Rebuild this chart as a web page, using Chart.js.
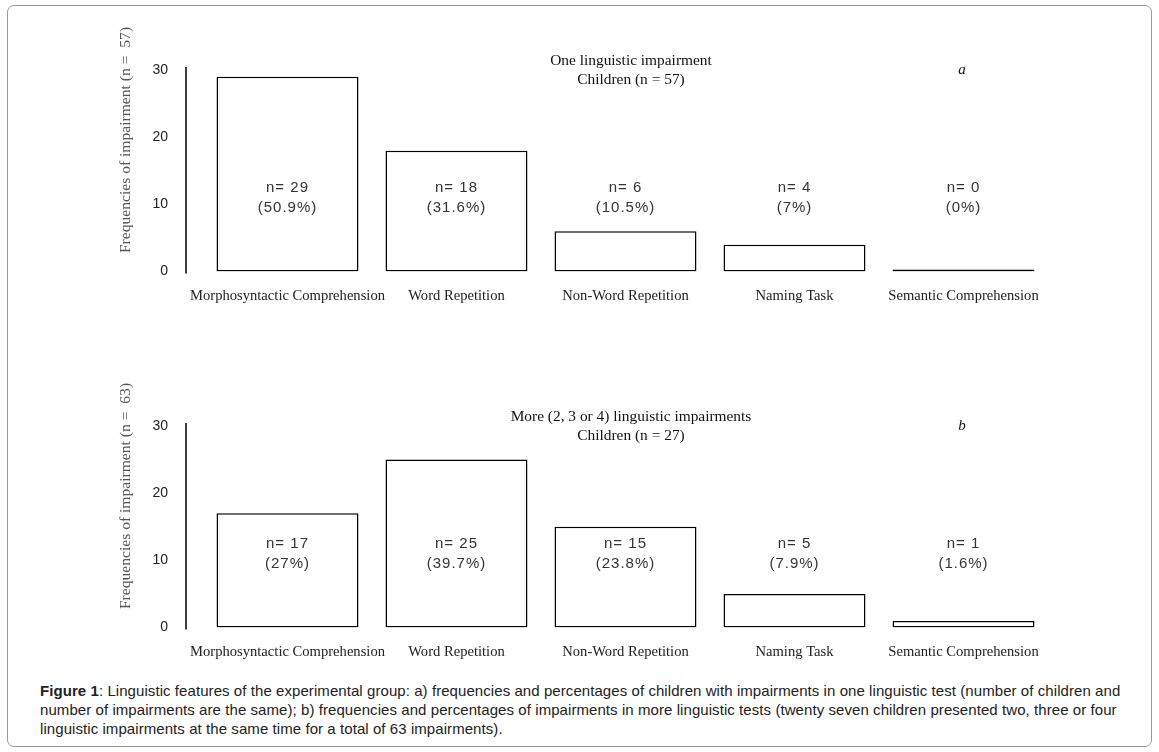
<!DOCTYPE html>
<html>
<head>
<meta charset="utf-8">
<script src="https://cdn.jsdelivr.net/npm/chart.js@4/dist/chart.umd.min.js"></script>
<style>
  body { margin: 0; background: #fff; }
  #frame {
    position: absolute; left: 7px; top: 5px; width: 1143px; height: 740px;
    border: 1px solid #999; border-radius: 7px;
  }
  canvas { position: absolute; left: 0; }
  #chartA { top: 0; }
  #chartB { top: 356px; }
  #caption {
    position: absolute; left: 40px; top: 681px;
    font: 15px "Liberation Sans", Arial, sans-serif; line-height: 19px; color: #222;
    letter-spacing: 0.07px;
  }
</style>
</head>
<body>
<div id="frame"></div>
<canvas id="chartA" width="1100" height="315"></canvas>
<canvas id="chartB" width="1100" height="315"></canvas>
<div id="caption"><b>Figure 1</b>: Linguistic features of the experimental group: a) frequencies and percentages of children with impairments in one linguistic test (number of children and<br>number of impairments are the same); b) frequencies and percentages of impairments in more linguistic tests (twenty seven children presented two, three or four<br>linguistic impairments at the same time for a total of 63 impairments).</div>

<script>
// --- dados ---
const categorias = ['Morphosyntactic Comprehension', 'Word Repetition', 'Non-Word Repetition', 'Naming Task', 'Semantic Comprehension'];
const contagemUma = [29, 18, 6, 4, 0];
const percentUma = ['50.9%', '31.6%', '10.5%', '7%', '0%'];
const contagemMais = [17, 25, 15, 5, 1];
const percentMais = ['27%', '39.7%', '23.8%', '7.9%', '1.6%'];
const ticksY = [0, 10, 20, 30];

const serif = '"Liberation Serif", "Times New Roman", serif';
const sans = '"Liberation Sans", Arial, sans-serif';

// plugin que desenha eixo, títulos e rótulos das barras
const decoracao = {
    id: 'deco',
    afterDraw(chart, args, opts) {
        const ctx = chart.ctx;
        const area = chart.chartArea;
        const y = chart.scales.y;
        ctx.save();

        // linha do eixo y
        ctx.strokeStyle = '#000';
        ctx.lineWidth = 1.5;
        ctx.beginPath();
        ctx.moveTo(area.left - 17, area.top - 3);
        ctx.lineTo(area.left - 17, area.bottom + 2);
        ctx.stroke();

        // título do eixo y
        ctx.fillStyle = '#555';
        ctx.font = '15.6px ' + serif;
        ctx.textAlign = 'center';
        ctx.textBaseline = 'middle';
        ctx.translate(area.left - 77, area.top + 70);
        ctx.rotate(-Math.PI / 2);
        ctx.fillText(opts.tituloY, 0, 0);
        ctx.setTransform(chart.currentDevicePixelRatio, 0, 0, chart.currentDevicePixelRatio, 0, 0);

        // título
        ctx.fillStyle = '#111';
        ctx.font = '15.4px ' + serif;
        ctx.fillText(opts.titulo1, 631, area.top - 9);
        ctx.fillText(opts.titulo2, 631, area.top + 10);
        ctx.font = 'italic 15px ' + serif;
        ctx.fillText(opts.letra, 962, area.top);

        // rótulos n= / %
        const meta = chart.getDatasetMeta(0);
        const centro = y.getPixelForValue(11);
        ctx.font = '15px ' + sans;
        ctx.fillStyle = '#333';
        ctx.letterSpacing = '1px';
        meta.data.forEach((barra, i) => {
            const valor = chart.data.datasets[0].data[i];
            ctx.fillText('n= ' + valor, barra.x, centro - 10);
            ctx.fillText('(' + opts.percentuais[i] + ')', barra.x, centro + 10);
        });
        ctx.restore();
    }
};

function criarGrafico(id, valores, percentuais, titulo1, titulo2, letra, tituloY) {
    const ctx = document.getElementById(id).getContext('2d');
    return new Chart(ctx, {
        type: 'bar',
        data: {
            labels: categorias,
            datasets: [{
                data: valores,
                backgroundColor: '#fff',
                borderColor: '#000',
                borderWidth: 1.5,
                borderSkipped: false,
                minBarLength: 2,
                categoryPercentage: 1,
                barPercentage: 0.84
            }]
        },
        options: {
            responsive: false,
            animation: false,
            layout: { padding: { top: 70, left: 0, right: 52, bottom: 0 } },
            plugins: {
                legend: { display: false },
                tooltip: { enabled: false },
                deco: { percentuais, titulo1, titulo2, letra, tituloY }
            },
            scales: {
                x: {
                    grid: { display: false, drawTicks: false },
                    border: { display: false },
                    ticks: { color: '#222', font: { family: serif, size: 14.6 }, padding: 16, maxRotation: 0, autoSkip: false },
                    afterFit: (scale) => { scale.height = 35; }
                },
                y: {
                    min: 0,
                    max: 30,
                    grid: { display: false, drawTicks: false },
                    border: { display: false },
                    afterBuildTicks: (scale) => { scale.ticks = ticksY.map(v => ({ value: v })); },
                    ticks: { color: '#222', font: { family: sans, size: 14 }, padding: 35 },
                    afterFit: (scale) => { scale.width = 203; }
                }
            }
        },
        plugins: [decoracao]
    });
}

criarGrafico('chartA', contagemUma, percentUma, 'One linguistic impairment', 'Children (n = 57)', 'a', 'Frequencies of impairment (n =  57)');
criarGrafico('chartB', contagemMais, percentMais, 'More (2, 3 or 4) linguistic impairments', 'Children (n = 27)', 'b', 'Frequencies of impairment (n =  63)');
</script>
</body>
</html>
